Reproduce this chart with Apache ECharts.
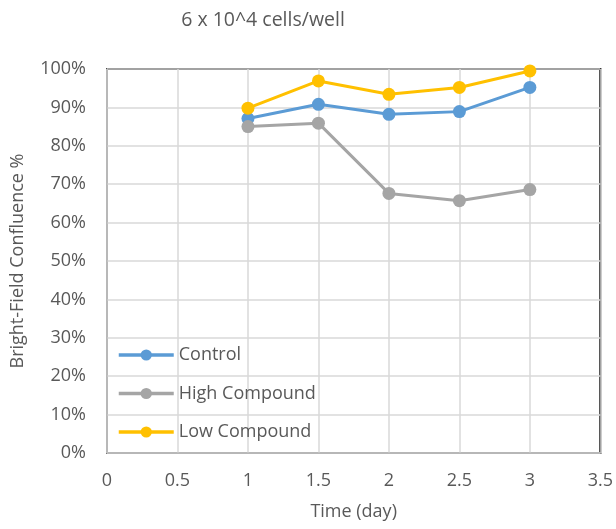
<!DOCTYPE html>
<html><head><meta charset="utf-8">
<script src="https://cdn.jsdelivr.net/npm/echarts@6/dist/echarts.min.js"></script>
<style>html,body{margin:0;padding:0;background:#fff}#c{width:616px;height:529px}</style>
</head><body><div id="c"></div>
<script>
const days = [1, 1.5, 2, 2.5, 3];
const control = [87.1, 90.8, 88.2, 88.9, 95.2];
const highCompound = [85.0, 85.9, 67.6, 65.7, 68.6];
const lowCompound = [89.8, 96.9, 93.4, 95.2, 99.5];
const seriesNames = ['Control', 'High Compound', 'Low Compound'];
const colors = ['#5b9bd5', '#a5a5a5', '#ffc000'];
const font = 'Open Sans, Liberation Sans, sans-serif';
const txt = '#595959';
const chart = echarts.init(document.getElementById('c'));
const mk = (name, vals, color) => ({
  name, type: 'line', data: days.map((d, i) => [d, vals[i]]),
  symbol: 'circle', symbolSize: 13,
  lineStyle: { color, width: 3 }, itemStyle: { color },
  emphasis: { disabled: true }
});
chart.setOption({
  animation: false,
  title: { text: '6 x 10^4 cells/well', left: 258, top: 5, textAlign: 'center',
    textStyle: { fontFamily: font, fontSize: 19.5, fontWeight: 'normal', color: txt } },
  grid: { left: 107, right: 15, top: 69, bottom: 76, show: true, borderColor: '#000', borderWidth: 2 },
  legend: { orient: 'vertical', left: 112, top: 341, itemWidth: 55, itemHeight: 14, itemGap: 20.5,
    lineStyle: { width: 3.5 },
    textStyle: { fontFamily: font, fontSize: 18, lineHeight: 18, color: txt },
    data: seriesNames },
  xAxis: { type: 'value', min: 0, max: 3.5, interval: 0.5,
    name: 'Time (day)', nameLocation: 'middle', nameGap: 50,
    nameTextStyle: { fontFamily: font, fontSize: 18, color: txt },
    axisLine: { lineStyle: { color: '#bfbfbf', width: 1.5 } }, axisTick: { show: false },
    axisLabel: { fontFamily: font, fontSize: 18, color: txt, margin: 19 },
    splitLine: { lineStyle: { color: '#d9d9d9', width: 1.5 } } },
  yAxis: { type: 'value', min: 0, max: 100, interval: 10,
    name: 'Bright-Field Confluence %', nameLocation: 'middle', nameGap: 80,
    nameTextStyle: { fontFamily: font, fontSize: 18, color: txt },
    axisLine: { show: true, lineStyle: { color: '#bfbfbf', width: 1.5 } }, axisTick: { show: false },
    axisLabel: { fontFamily: font, fontSize: 18, color: txt, margin: 21, formatter: '{value}%' },
    splitLine: { lineStyle: { color: '#d9d9d9', width: 1.5 } } },
  series: [mk(seriesNames[0], control, colors[0]), mk(seriesNames[1], highCompound, colors[1]), mk(seriesNames[2], lowCompound, colors[2])]
});
</script></body></html>
